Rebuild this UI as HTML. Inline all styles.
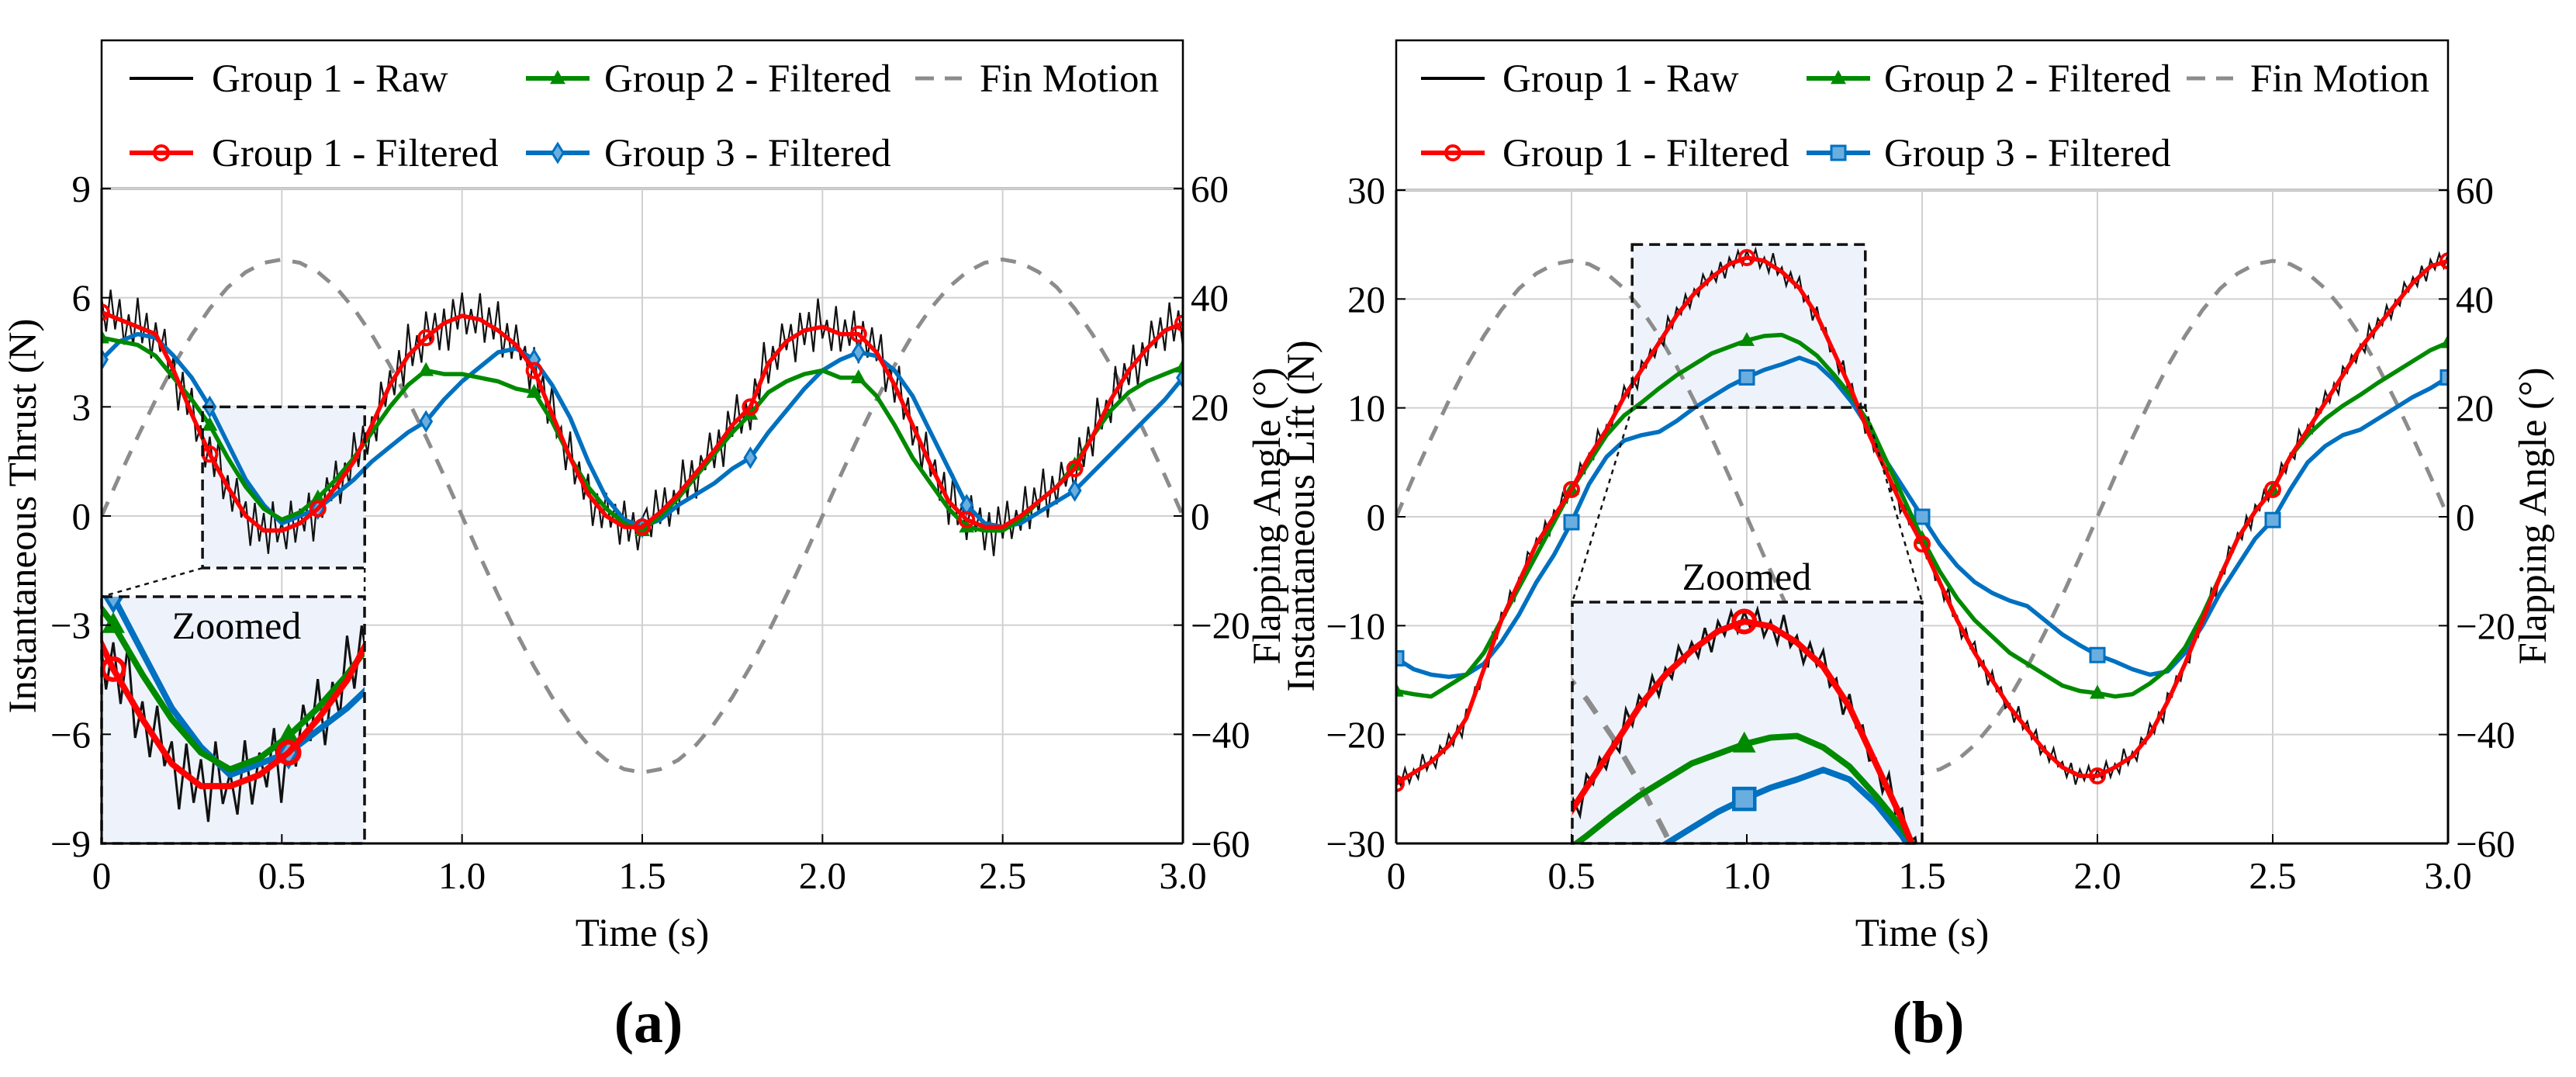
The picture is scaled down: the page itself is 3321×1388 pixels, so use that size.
<!DOCTYPE html>
<html><head><meta charset="utf-8">
<style>
html,body{margin:0;padding:0;background:#fff;width:3321px;height:1388px;overflow:hidden;}
svg{display:block;font-family:"Liberation Serif",serif;}
</style></head>
<body>
<svg id="fig" width="3321" height="1388" viewBox="0 0 3321 1388" xmlns="http://www.w3.org/2000/svg">
<defs>
<clipPath id="clipA"><rect x="131" y="243" width="1394" height="844"/></clipPath>
<clipPath id="clipB"><rect x="1800" y="245" width="1356" height="842"/></clipPath>
<clipPath id="insClipA"><rect x="131" y="769" width="339" height="318"/></clipPath>
<clipPath id="insClipB"><rect x="2027" y="776" width="451" height="311"/></clipPath>
</defs>
</svg>
<script>
// ---------- DATA ----------
const timeTicks = [0, 0.5, 1.0, 1.5, 2.0, 2.5, 3.0];
const timeTickLabels = ["0", "0.5", "1.0", "1.5", "2.0", "2.5", "3.0"];
const thrustTicks = [-9, -6, -3, 0, 3, 6, 9];
const thrustTickLabels = ["\u22129", "\u22126", "\u22123", "0", "3", "6", "9"];
const liftTicks = [-30, -20, -10, 0, 10, 20, 30];
const liftTickLabels = ["\u221230", "\u221220", "\u221210", "0", "10", "20", "30"];
const angleTicks = [-60, -40, -20, 0, 20, 40, 60];
const angleTickLabels = ["\u221260", "\u221240", "\u221220", "0", "20", "40", "60"];

// time samples every 0.05 s
const sampleTimes = [0,0.05,0.1,0.15,0.2,0.25,0.3,0.35,0.4,0.45,0.5,0.55,0.6,0.65,0.7,0.75,0.8,0.85,0.9,0.95,1.0,1.05,1.1,1.15,1.2,1.25,1.3,1.35,1.4,1.45,1.5,1.55,1.6,1.65,1.7,1.75,1.8,1.85,1.9,1.95,2.0,2.05,2.1,2.15,2.2,2.25,2.3,2.35,2.4,2.45,2.5,2.55,2.6,2.65,2.7,2.75,2.8,2.85,2.9,2.95,3.0];

// fin motion (flapping angle, deg) every 0.05 s
const finAngle = [0,7.4,14.5,21.3,27.6,33.2,38,41.9,44.7,46.4,47,46.4,44.7,41.9,38,33.2,27.6,21.3,14.5,7.4,0,-7.4,-14.5,-21.3,-27.6,-33.2,-38,-41.9,-44.7,-46.4,-47,-46.4,-44.7,-41.9,-38,-33.2,-27.6,-21.3,-14.5,-7.4,0,7.4,14.5,21.3,27.6,33.2,38,41.9,44.7,46.4,47,46.4,44.7,41.9,38,33.2,27.6,21.3,14.5,7.4,0];

// Thrust (N)
const thrustG1 = [5.6,5.4,5.2,5.0,4.0,2.8,1.7,0.8,0.0,-0.4,-0.4,-0.2,0.2,0.8,1.5,2.5,3.6,4.4,4.9,5.3,5.5,5.4,5.1,4.7,4.0,2.8,1.6,0.6,0.0,-0.3,-0.3,0.1,0.6,1.2,1.8,2.5,3.0,4.2,4.8,5.1,5.2,5.0,5.0,4.5,3.6,2.5,1.4,0.4,-0.1,-0.3,-0.3,0.0,0.4,0.8,1.3,2.2,3.2,4.0,4.6,5.1,5.3];
const thrustG2 = [4.9,4.8,4.7,4.4,3.8,3.2,2.5,1.6,0.8,0.2,-0.1,0.1,0.5,1.0,1.6,2.3,3.0,3.6,4.0,3.9,3.9,3.8,3.7,3.5,3.4,2.6,1.6,0.8,0.2,-0.2,-0.4,0.0,0.5,1.1,1.7,2.3,2.8,3.4,3.7,3.9,4.0,3.8,3.8,3.3,2.5,1.6,0.9,0.2,-0.3,-0.4,-0.4,-0.1,0.4,0.8,1.4,2.2,2.9,3.4,3.7,3.9,4.1];
const thrustG3 = [4.3,4.8,5.0,4.9,4.4,3.8,3.0,2.0,1.0,0.3,-0.2,0.0,0.2,0.6,1.0,1.5,1.9,2.3,2.6,3.2,3.7,4.1,4.5,4.6,4.3,3.6,2.7,1.5,0.5,-0.1,-0.3,-0.1,0.3,0.6,0.9,1.3,1.6,2.3,2.9,3.5,4.0,4.3,4.5,4.4,4.0,3.3,2.3,1.3,0.3,-0.2,-0.3,-0.2,0.1,0.4,0.7,1.2,1.7,2.2,2.7,3.2,3.8];
const thrustRawNoise = [0.5,-0.6,0.9,-0.4,0.7,-0.8,0.3,-0.7,1.0,-0.5,0.6,-0.9,0.4,-0.3,0.8,-0.6,0.5,-1.0,0.7,-0.4,0.9,-0.6,0.3,-0.8,0.6,-0.5,1.1,-0.7,0.4,-0.6,0.8,-0.3,0.5,-0.9,0.7,-0.5,0.6,-0.8,1.0,-0.4,0.3,-0.7,0.9,-0.6,0.5,-0.4,0.8,-1.0,0.6,-0.5,0.7,-0.3,0.9,-0.8,0.4,-0.6,1.0,-0.5,0.6,-0.7,0.3,-0.9,0.8,-0.4,0.5,-0.6,0.7,-0.8,1.1,-0.5,0.4,-0.7,0.9,-0.3,0.6,-0.8,0.5,-1.0,0.7,-0.4,0.8,-0.6,0.3,-0.5,0.9,-0.7,0.6,-0.4,1.0,-0.8,0.5,-0.6,0.7,-0.3,0.4,-0.9,0.8,-0.5,0.6,-0.7,1.0,-0.4,0.3,-0.8,0.9,-0.6,0.5,-0.5,0.7,-0.9,0.4,-0.6,0.8,-0.3,0.6,-0.7,0.9,-0.5,0.5,-0.8,0.3];

// Lift (N)
const liftG1 = [-24.5,-23.5,-22.5,-21,-18.5,-14,-9.5,-6,-2.5,0,2.5,5.5,8,11,13.5,16,18.5,20.5,22,23.2,23.8,23.5,22.5,21,18.5,15,11.5,7.5,4,0.5,-2.5,-6,-9.5,-12.5,-15,-17.5,-19.5,-21.5,-23,-23.8,-23.8,-23,-22,-20,-17,-13.5,-9.5,-5.5,-2,0.5,2.5,5.5,8,10.5,13,15.5,17.5,19.5,21.5,23,23.5];
const liftG2 = [-16,-16.3,-16.5,-15.5,-14.5,-12.5,-9.5,-6.5,-3.5,-0.5,2.5,5,7.5,9.3,10.5,11.8,13,14,15,15.6,16.2,16.6,16.7,16,14.8,13,11,8.5,5,1.5,-2,-5,-7.5,-9.5,-11,-12.5,-13.5,-14.5,-15.5,-16,-16.2,-16.5,-16.3,-15.3,-14,-12,-9,-5.5,-2,0.5,2.5,5.5,7.5,9,10.2,11.2,12.3,13.3,14.3,15.3,16];
const liftG3 = [-13,-14,-14.5,-14.7,-14.5,-13.5,-11.5,-9,-6,-3.5,-0.5,3,5.5,7,7.5,7.8,8.8,10,11,12,12.8,13.5,14,14.6,14,12.5,10.5,8,5,2.5,0,-2.5,-4.5,-6,-7,-7.7,-8.2,-9.5,-10.8,-11.8,-12.7,-13.3,-14,-14.5,-14.2,-12.5,-10,-7,-4.5,-2,-0.3,2.5,5,6.5,7.5,8,9,10,11,11.8,12.8];
const liftRawNoise = [0.6,-0.4,0.9,-0.7,0.3,-0.8,1.2,-0.5,0.4,-0.9,0.7,-0.3,1.0,-0.6,0.5,-1.1,0.8,-0.4,0.6,-0.7,0.3,-0.9,1.1,-0.5,0.7,-0.4,0.9,-0.8,0.4,-0.6,1.0,-0.3,0.5,-0.7,0.8,-1.0,0.6,-0.4,0.9,-0.5];

// ---------- DRAWING ----------
const NS = "http://www.w3.org/2000/svg";
const svg = document.getElementById("fig");
function el(tag, attrs, parent) {
  const e = document.createElementNS(NS, tag);
  for (const k in attrs) e.setAttribute(k, attrs[k]);
  (parent || svg).appendChild(e);
  return e;
}
function interp(ts, vs, t) {
  if (t <= ts[0]) return vs[0];
  for (let i = 1; i < ts.length; i++) {
    if (t <= ts[i] + 1e-9) { const f = (t - ts[i-1]) / (ts[i] - ts[i-1]); return vs[i-1] + f * (vs[i] - vs[i-1]); }
  }
  return vs[vs.length - 1];
}

function drawPanel(c) {
  const g = el("g", {});
  
  
  const X = t => c.x0 + (t - 0) / 3 * (c.x1 - c.x0);
  const Y = v => c.y0 + (c.ymax - v) / (c.ymax - c.ymin) * (c.y1 - c.y0);
  const YA = a => c.y0 + (60 - a) / 120 * (c.y1 - c.y0);

  // legend box
  const lg = el("g", {}, g);
  
  
  el("rect", {x: c.x0, y: 52, width: c.x1 - c.x0, height: c.y0 - 52, fill: "#fff", stroke: "#000", "stroke-width": 2.5}, lg);
  const L = c.leg;
  const entries = [
    {n:"Group 1 - Raw", col:"#000", w:4, x:L[0], tx:L[1], y:101, m:null},
    {n:"Group 1 - Filtered", col:"#ff0000", w:6, x:L[0], tx:L[1], y:197, m:"circle"},
    {n:"Group 2 - Filtered", col:"#008a00", w:6, x:L[2], tx:L[3], y:101, m:"tri"},
    {n:"Group 3 - Filtered", col:"#0070c0", w:6, x:L[2], tx:L[3], y:197, m:c.g3marker},
    {n:"Fin Motion", col:"#8c8c8c", w:5, x:L[4], tx:L[5], y:101, m:null, dash:true}
  ];
  entries.forEach(e => {
    const eg = el("g", {}, lg);
    
    
    const len = e.dash ? 60 : 82;
    el("line", {x1: e.x, y1: e.y, x2: e.x + len, y2: e.y, stroke: e.col, "stroke-width": e.w, "stroke-dasharray": e.dash ? "24 14" : "none"}, eg);
    if (e.m) marker(eg, e.m, e.x + len / 2, e.y, e.col, 9);
    const t = el("text", {x: e.tx, y: e.y + 17, "font-size": 51, fill: "#000"}, eg);
    t.textContent = e.n;
  });

  // gridlines
  const gg = el("g", {}, g);
  
  
  timeTicks.forEach(t => el("line", {x1: X(t), y1: c.y0, x2: X(t), y2: c.y1, stroke: "#d0d0d0", "stroke-width": 2}, gg));
  c.yticks.forEach(v => el("line", {x1: c.x0, y1: Y(v), x2: c.x1, y2: Y(v), stroke: "#d0d0d0", "stroke-width": 2}, gg));

  // source zoom box fill
  const sb = c.src;
  el("rect", {x: X(sb.t0), y: Y(sb.v1), width: X(sb.t1) - X(sb.t0), height: Y(sb.v0) - Y(sb.v1), fill: "#eef3fb"}, g);

  function drawSeries(parent, k) {
    let pts = sampleTimes.map((t, i) => X(t).toFixed(1) + "," + YA(finAngle[i]).toFixed(1));
    const fin = el("polyline", {points: pts.join(" "), fill: "none", stroke: "#8c8c8c", "stroke-width": k ? 7 : 5, "stroke-dasharray": k ? "26 20" : "20 16", "vector-effect": "non-scaling-stroke"}, parent);
    
    
    pts = [];
    for (let i = 0; i <= 240; i++) {
      const t = i * 0.0125;
      const v = interp(sampleTimes, c.g1, t) + c.noise[i % c.noise.length] * c.noiseScale;
      pts.push(X(t).toFixed(1) + "," + Y(v).toFixed(1));
    }
    const raw = el("polyline", {points: pts.join(" "), fill: "none", stroke: "#111", "stroke-width": k ? 3 : 2.2, "vector-effect": "non-scaling-stroke"}, parent);
    
    
    const series = [[c.g3, "#0070c0", c.g3marker, "group3-filtered-line"], [c.g2, "#008a00", "tri", "group2-filtered-line"], [c.g1, "#ff0000", "circle", "group1-filtered-line"]];
    series.forEach(s => {
      const p = s[0].map((v, i) => X(sampleTimes[i]).toFixed(1) + "," + Y(v).toFixed(1));
      const line = el("polyline", {points: p.join(" "), fill: "none", stroke: s[1], "stroke-width": k ? 8 : 5.5, "stroke-linejoin": "round", "vector-effect": "non-scaling-stroke"}, parent);
      
      
      s[0].forEach((v, i) => {
        const t = sampleTimes[i];
        if (Math.abs((t / c.mstep) - Math.round(t / c.mstep)) < 1e-6) {
          const m = markerScaled(parent, s[2], X(t), Y(v), s[1], k);
          
          
        }
      });
    });
  }

  const main = el("g", {"clip-path": "url(#" + c.clip + ")"}, g);
  
  
  drawSeries(main, 0);

  el("rect", {x: X(sb.t0), y: Y(sb.v1), width: X(sb.t1) - X(sb.t0), height: Y(sb.v0) - Y(sb.v1), fill: "none", stroke: "#111", "stroke-width": 3.5, "stroke-dasharray": "14 8"}, g);

  const ins = c.ins;
  const sx = (ins.x1 - ins.x0) / (X(sb.t1) - X(sb.t0));
  const sy = (ins.y1 - ins.y0) / (Y(sb.v0) - Y(sb.v1));
  const ig = el("g", {"clip-path": "url(#" + c.insClip + ")"}, g);
  
  
  el("rect", {x: ins.x0, y: ins.y0, width: ins.x1 - ins.x0, height: ins.y1 - ins.y0, fill: "#eef3fb"}, ig);
  const tg = el("g", {transform: "translate(" + ins.x0 + "," + ins.y0 + ") scale(" + sx + "," + sy + ") translate(" + (-X(sb.t0)) + "," + (-Y(sb.v1)) + ")"}, ig);
  drawSeries(tg, 1);
  el("rect", {x: ins.x0, y: ins.y0, width: ins.x1 - ins.x0, height: ins.y1 - ins.y0, fill: "none", stroke: "#111", "stroke-width": 3.5, "stroke-dasharray": "14 8"}, g);
  el("line", {x1: X(sb.t0), y1: Y(sb.v0), x2: ins.x0, y2: ins.y0, stroke: "#111", "stroke-width": 2.5, "stroke-dasharray": "6 6"}, g);
  el("line", {x1: X(sb.t1), y1: Y(sb.v0), x2: ins.x1, y2: ins.y0, stroke: "#111", "stroke-width": 2.5, "stroke-dasharray": "6 6"}, g);
  const zt = el("text", {x: c.zoomTxt[0], y: c.zoomTxt[1], "font-size": 50, "text-anchor": "middle", fill: "#000"}, g);
  zt.textContent = "Zoomed";
  
  

  el("line", {x1: c.x0, y1: c.y0, x2: c.x0, y2: c.y1, stroke: "#000", "stroke-width": 3}, g);
  el("line", {x1: c.x1, y1: c.y0, x2: c.x1, y2: c.y1, stroke: "#000", "stroke-width": 3}, g);
  el("line", {x1: c.x0, y1: c.y1, x2: c.x1, y2: c.y1, stroke: "#000", "stroke-width": 3}, g);

  const xa = el("g", {}, g);
  
  
  timeTicks.forEach((t, i) => {
    el("line", {x1: X(t), y1: c.y1, x2: X(t), y2: c.y1 - 12, stroke: "#000", "stroke-width": 2}, xa);
    const tx = el("text", {x: X(t), y: 1145, "font-size": 49, "text-anchor": "middle", fill: "#000"}, xa);
    tx.textContent = timeTickLabels[i];
  });
  const xt = el("text", {x: (c.x0 + c.x1) / 2, y: 1219, "font-size": 51, "text-anchor": "middle", fill: "#000"}, g);
  xt.textContent = "Time (s)";
  
  

  const ya = el("g", {}, g);
  
  
  c.yticks.forEach((v, i) => {
    el("line", {x1: c.x0, y1: Y(v), x2: c.x0 + 12, y2: Y(v), stroke: "#000", "stroke-width": 2}, ya);
    const tx = el("text", {x: c.x0 - 14, y: Y(v) + 17, "font-size": 49, "text-anchor": "end", fill: "#000"}, ya);
    tx.textContent = c.ylabels[i];
  });
  const yt = el("text", {x: 0, y: 0, "font-size": 51, "text-anchor": "middle", fill: "#000", transform: "translate(" + c.ytitleX + ",665) rotate(-90)"}, g);
  yt.textContent = c.ytitle;
  
  

  const ra = el("g", {}, g);
  
  
  angleTicks.forEach((a, i) => {
    el("line", {x1: c.x1, y1: YA(a), x2: c.x1 - 12, y2: YA(a), stroke: "#000", "stroke-width": 2}, ra);
    const tx = el("text", {x: c.x1 + 10, y: YA(a) + 17, "font-size": 49, "text-anchor": "start", fill: "#000"}, ra);
    tx.textContent = angleTickLabels[i];
  });
  const rt = el("text", {x: 0, y: 0, "font-size": 51, "text-anchor": "middle", fill: "#000", transform: "translate(" + c.rtitleX + ",665) rotate(-90)"}, g);
  rt.textContent = "Flapping Angle (\u00b0)";
  
  

  const pl = el("text", {x: (c.x0 + c.x1) / 2 + 8, y: 1343, "font-size": 76, "font-weight": "bold", "text-anchor": "middle", fill: "#000"}, g);
  pl.textContent = c.label;
  
  
}

function marker(parent, type, x, y, col, r) {
  let m;
  if (type === "circle") {
    m = el("circle", {cx: x, cy: y, r: r, fill: "none", stroke: col, "stroke-width": 4}, parent);
  } else if (type === "tri") {
    m = el("polygon", {points: (x) + "," + (y - r * 1.2) + " " + (x - r * 1.1) + "," + (y + r * 0.8) + " " + (x + r * 1.1) + "," + (y + r * 0.8), fill: col}, parent);
  } else if (type === "diamond") {
    m = el("polygon", {points: x + "," + (y - r * 1.3) + " " + (x + r * 0.8) + "," + y + " " + x + "," + (y + r * 1.3) + " " + (x - r * 0.8) + "," + y, fill: "#6aaee0", stroke: col, "stroke-width": 3}, parent);
  } else {
    m = el("rect", {x: x - r, y: y - r, width: 2 * r, height: 2 * r, fill: "#6aaee0", stroke: col, "stroke-width": 3}, parent);
  }
  return m;
}
function markerScaled(parent, type, x, y, col, k) {
  const g = el("g", {transform: "translate(" + x + "," + y + ")"}, parent);
  if (k) {
    const ctm = parent.getAttribute("transform");
    const m = /scale\(([\d.]+),([\d.]+)\)/.exec(ctm || "");
    if (m) g.setAttribute("transform", "translate(" + x + "," + y + ") scale(" + (1.5 / parseFloat(m[1])) + "," + (1.5 / parseFloat(m[2])) + ")");
  }
  marker(g, type, 0, 0, col, 9);
  return g;
}

drawPanel({
  name: "thrust-panel", x0: 131, x1: 1525, y0: 243, y1: 1087, ymin: -9, ymax: 9,
  yticks: thrustTicks, ylabels: thrustTickLabels, ytitle: "Instantaneous Thrust (N)", ytitleX: 46, rtitleX: 1650,
  g1: thrustG1, g2: thrustG2, g3: thrustG3, noise: thrustRawNoise, noiseScale: 0.8, g3marker: "diamond", mstep: 0.3,
  leg: [167, 273, 678, 779, 1180, 1263], clip: "clipA", insClip: "insClipA",
  src: {t0: 0.28, t1: 0.73, v0: -1.43, v1: 3.0}, ins: {x0: 131, x1: 470, y0: 769, y1: 1087},
  zoomTxt: [305, 823], label: "(a)"
});
drawPanel({
  name: "lift-panel", x0: 1800, x1: 3156, y0: 245, y1: 1087, ymin: -30, ymax: 30,
  yticks: liftTicks, ylabels: liftTickLabels, ytitle: "Instantaneous Lift (N)", ytitleX: 1694, rtitleX: 3282,
  g1: liftG1, g2: liftG2, g3: liftG3, noise: liftRawNoise, noiseScale: 1.0, g3marker: "square", mstep: 0.5,
  leg: [1832, 1937, 2329, 2429, 2819, 2901], clip: "clipB", insClip: "insClipB",
  src: {t0: 0.673, t1: 1.338, v0: 10.04, v1: 25.0}, ins: {x0: 2027, x1: 2478, y0: 776, y1: 1087},
  zoomTxt: [2252, 760], label: "(b)"
});
</script>
</body></html>
